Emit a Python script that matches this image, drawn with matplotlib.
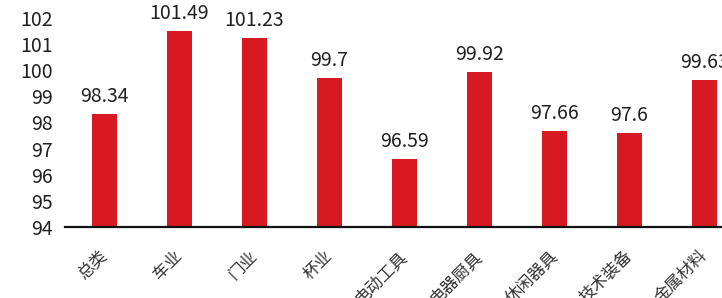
import matplotlib
matplotlib.use("Agg")
import matplotlib.pyplot as plt
import matplotlib.transforms as mtransforms

categories = ["总类", "车业", "门业", "杯业", "电动工具", "电器厨具", "休闲器具", "技术装备", "金属材料"]
values = [98.34, 101.49, 101.23, 99.7, 96.59, 99.92, 97.66, 97.6, 99.63]
labels = ["98.34", "101.49", "101.23", "99.7", "96.59", "99.92", "97.66", "97.6", "99.63"]
yticks = [94, 95, 96, 97, 98, 99, 100, 101, 102]

plt.rcParams['font.family'] = ['Noto Sans CJK SC', 'DejaVu Sans']
W, H = 722, 298
fig = plt.figure(figsize=(W/100, H/100), dpi=100)
left_px, right_px, top_px, bot_px = 65, 744, 18, 227
ax = fig.add_axes([left_px/W, 1-bot_px/H, (right_px-left_px)/W, (bot_px-top_px)/H])

txtc = "#231f20"
x = list(range(len(categories)))
ax.bar(x, [v-94 for v in values], bottom=94, width=0.33, color="#d71a21")
ax.set_xlim(-0.527, 8.527)
ax.set_ylim(94, 102)
for s in ["top", "right", "left"]:
    ax.spines[s].set_visible(False)
ax.spines["bottom"].set_linewidth(1.6)
ax.spines["bottom"].set_color("#111111")
ax.set_yticks(yticks)
ax.set_yticklabels([str(t) for t in yticks], fontsize=14, color=txtc)
ax.tick_params(axis='y', length=0, pad=9)
ax.tick_params(axis='x', length=0, pad=14)
ax.set_xticks(x)
ax.set_xticklabels(categories, rotation=45, ha='right', va='top', fontsize=12,
                   color="#333333", fontweight='light')
off = mtransforms.ScaledTranslation(6.5/100, -1/100, fig.dpi_scale_trans)
for t in ax.get_xticklabels():
    t.set_transform(t.get_transform() + off)
for xi, v, lb in zip(x, values, labels):
    ax.annotate(lb, (xi, v), xytext=(0, 5), textcoords='offset points',
                ha='center', va='bottom', fontsize=14, color=txtc)

fig.savefig("out.png", dpi=100)
